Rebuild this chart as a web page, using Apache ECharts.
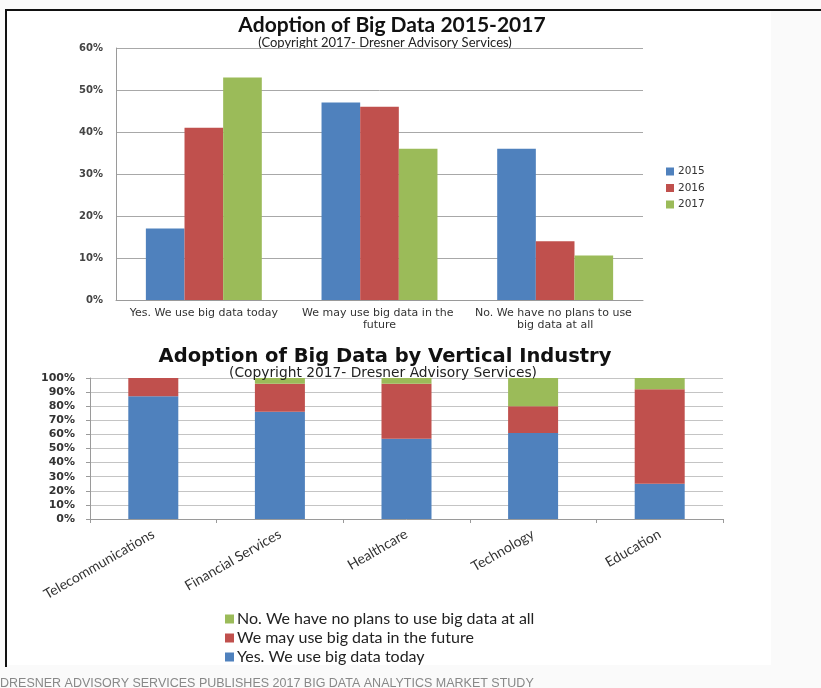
<!DOCTYPE html>
<html>
<head>
<meta charset="utf-8">
<title>Adoption of Big Data</title>
<script src="https://cdn.jsdelivr.net/npm/echarts@6/dist/echarts.min.js"></script>
<style>
  html, body { margin: 0; padding: 0; background: #fafafa; }
  #chart { width: 821px; height: 688px; }
</style>
</head>
<body>
<div id="chart"></div>
<script>
// top chart: adoption by year
const answers = ['Yes. We use big data today', 'We may use big data in the future', 'No. We have no plans to use big data at all']
const years = ['2015', '2016', '2017']
const share2015 = [17, 47, 36]
const share2016 = [41, 46, 14]
const share2017 = [53, 36, 10.6]
const topTicks = [0, 60, 10] // min, max, interval

// bottom chart: adoption by vertical industry (stacked %)
const industries = ['Telecommunications', 'Financial Services', 'Healthcare', 'Technology', 'Education']
const useToday = [87, 76, 57, 61, 25]
const mayUse = [13, 20, 39, 19, 67]
const noPlans = [0, 4, 4, 20, 8]
const bottomTicks = [0, 100, 10]

const footerText = 'DRESNER ADVISORY SERVICES PUBLISHES 2017 BIG DATA ANALYTICS MARKET STUDY'

const BLUE = '#4f81bd'
const RED = '#c0504d'
const GREEN = '#9bbb59'
const yearColors = [BLUE, RED, GREEN]

const chart = echarts.init(document.getElementById('chart'))

chart.setOption({
  backgroundColor: '#fafafa',
  animation: false,
  graphic: [
    // white panel + black border of the screenshot
    { type: 'rect', z: -10, shape: { x: 7, y: 11, width: 764, height: 654 }, style: { fill: '#ffffff' } },
    { type: 'rect', z: -9, shape: { x: 5, y: 9, width: 816, height: 2 }, style: { fill: '#111' } },
    { type: 'rect', z: -9, shape: { x: 5, y: 9, width: 2, height: 658 }, style: { fill: '#111' } },
    // titles
    { type: 'text', x: 392, y: 25, style: { text: 'Adoption of Big Data 2015-2017', textAlign: 'center', textVerticalAlign: 'middle', font: 'bold 21px Lato', fill: '#111' } },
    { type: 'text', x: 385, y: 43, style: { text: '(Copyright 2017- Dresner Advisory Services)', textAlign: 'center', textVerticalAlign: 'middle', font: '13px Lato', fill: '#222' } },
    { type: 'text', x: 385, y: 357, style: { text: 'Adoption of Big Data by Vertical Industry', textAlign: 'center', textVerticalAlign: 'middle', font: 'bold 19.5px "DejaVu Sans"', fill: '#111' } },
    { type: 'text', x: 383, y: 373, z: 10, style: { text: '(Copyright 2017- Dresner Advisory Services)', textAlign: 'center', textVerticalAlign: 'middle', font: '13.8px "DejaVu Sans"', fill: '#222' } },
    // footer caption
    { type: 'text', x: 0, y: 684, style: { text: footerText, textAlign: 'left', textVerticalAlign: 'middle', font: '12.5px "Liberation Sans"', fill: '#888' } },
  ],
  legend: [
    {
      data: years,
      orient: 'vertical',
      left: 661, top: 161,
      itemWidth: 8, itemHeight: 8, itemGap: 5.5,
      icon: 'rect',
      textStyle: { fontFamily: 'DejaVu Sans', fontSize: 10.5, color: '#333', padding: [0, 0, 0, -1] },
    },
    {
      data: [answers[2], answers[1], answers[0]],
      orient: 'vertical',
      left: 220, top: 606,
      itemWidth: 9, itemHeight: 9, itemGap: 3,
      icon: 'rect',
      textStyle: { fontFamily: 'Lato', fontSize: 16, color: '#222', padding: [0, 0, 0, -2] },
    },
  ],
  grid: [
    { left: 116, right: 178, top: 48, bottom: 388 },
    { left: 90, right: 98, top: 378, bottom: 169 },
  ],
  xAxis: [
    {
      gridIndex: 0, type: 'category', data: answers,
      axisLine: { lineStyle: { color: '#9a9a9a' } },
      axisTick: { show: false },
      axisLabel: {
        fontFamily: 'DejaVu Sans', fontSize: 11, color: '#333', margin: 7,
        width: 172, overflow: 'break', lineHeight: 12, interval: 0,
      },
    },
    {
      gridIndex: 1, type: 'category', data: industries,
      axisLine: { lineStyle: { color: '#9a9a9a' } },
      axisTick: { show: true, length: 4, lineStyle: { color: '#9a9a9a' } },
      axisLabel: { fontFamily: 'Lato', fontSize: 14, color: '#333', rotate: 30, margin: 14, interval: 0 },
    },
  ],
  yAxis: [
    {
      gridIndex: 0, type: 'value', min: topTicks[0], max: topTicks[1], interval: topTicks[2],
      axisLine: { show: true, lineStyle: { color: '#9a9a9a' } },
      axisTick: { show: false },
      splitLine: { lineStyle: { color: '#a8a8a8' } },
      axisLabel: { formatter: '{value}%', fontFamily: 'DejaVu Sans', fontSize: 10, fontWeight: 'bold', color: '#444', margin: 13 },
    },
    {
      gridIndex: 1, type: 'value', min: bottomTicks[0], max: bottomTicks[1], interval: bottomTicks[2],
      axisLine: { show: true, lineStyle: { color: '#9a9a9a' } },
      axisTick: { show: true, length: 4, lineStyle: { color: '#9a9a9a' } },
      splitLine: { lineStyle: { color: '#c4c4c4' } },
      axisLabel: { formatter: '{value}%', fontFamily: 'DejaVu Sans', fontSize: 11, fontWeight: 'bold', color: '#333', margin: 15 },
    },
  ],
  series: [
    ...[share2015, share2016, share2017].map((vals, i) => ({
      name: years[i], type: 'bar', xAxisIndex: 0, yAxisIndex: 0,
      data: vals, barGap: '0%', barCategoryGap: '34%',
      itemStyle: { color: yearColors[i] },
    })),
    { name: answers[0], type: 'bar', stack: 'ind', xAxisIndex: 1, yAxisIndex: 1, data: useToday, barWidth: 50, itemStyle: { color: BLUE } },
    { name: answers[1], type: 'bar', stack: 'ind', xAxisIndex: 1, yAxisIndex: 1, data: mayUse, barWidth: 50, itemStyle: { color: RED } },
    { name: answers[2], type: 'bar', stack: 'ind', xAxisIndex: 1, yAxisIndex: 1, data: noPlans, barWidth: 50, itemStyle: { color: GREEN } },
  ],
})
</script>
</body>
</html>
